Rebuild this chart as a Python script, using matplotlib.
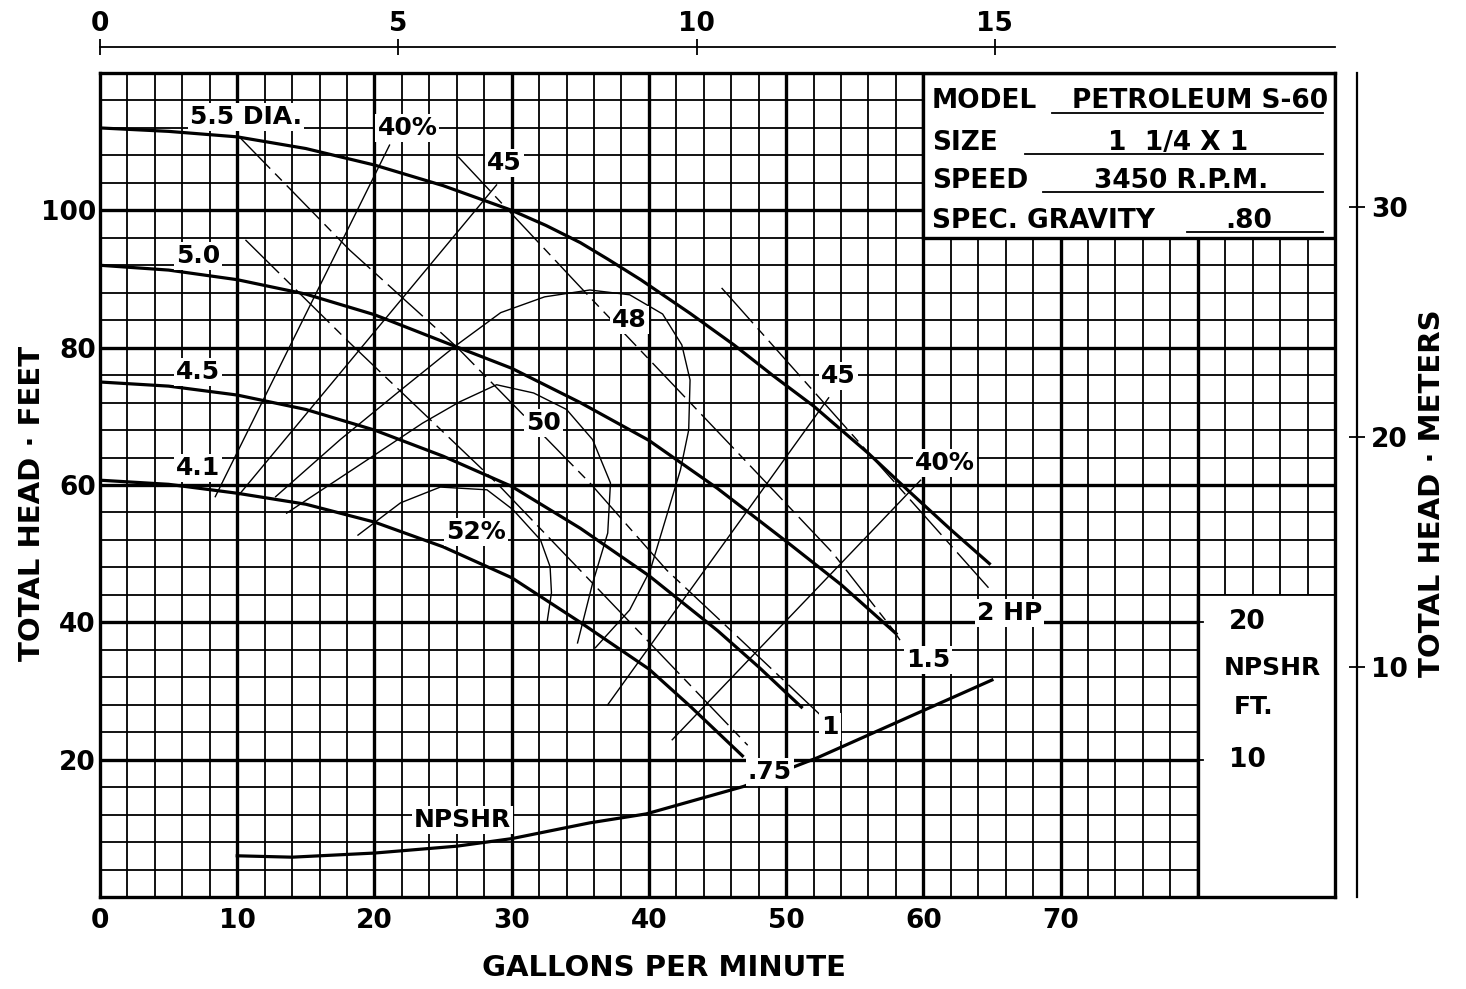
import numpy as np
import matplotlib.pyplot as plt
from matplotlib.patches import Rectangle
from matplotlib.lines import Line2D

plt.rcParams['font.family'] = ['DejaVu Sans']
plt.rcParams['font.weight'] = 'bold'
plt.rcParams['lines.scale_dashes'] = False

# %% head curves per impeller dia. (GPM, ft)
q_55 = [0, 5, 10, 15, 20, 25, 30, 32.5, 35, 37, 39.4, 43, 46.2, 49, 52, 56, 59, 62, 64.9]
h_55 = [112, 111.5, 110.7, 109, 106.6, 103.6, 100, 97.8, 95.3, 92.9, 89.9, 85.0, 80.4, 76.0, 71.5, 64.6, 59.0, 53.5, 48.4]
q_50 = [0, 5, 10, 15, 20, 26, 30, 35, 40, 45, 50, 54, 58.1]
h_50 = [92, 91.3, 89.9, 87.8, 84.8, 80.1, 77, 72, 66.5, 59.5, 51.8, 45.5, 38.2]
q_45 = [0, 5, 10, 15, 20, 25, 30, 35, 40, 45, 48, 51.2]
h_45 = [75, 74.4, 73.1, 71, 68, 64.2, 59.8, 53.7, 46.8, 38.8, 33.5, 27.5]
q_41 = [0, 5, 10, 15, 20, 25, 30, 35, 40, 43, 46.9]
h_41 = [60.7, 60.1, 58.8, 57.2, 54.6, 51, 46.5, 40, 33.2, 27.8, 20.4]

# %% efficiency lines
q_e40a = [8.4, 21.1]
h_e40a = [58.3, 109.5]
q_e45a = [10.1, 28.9]
h_e45a = [58.5, 103.7]
q_e48 = [12.8, 17.5, 21.9, 26.0, 29.2, 32.4, 35.7, 38.6, 41.0, 42.4, 43.0, 42.9, 42.3, 41.2, 40.1, 38.6, 36.1]
h_e48 = [58.3, 66.6, 73.8, 80.4, 85.1, 87.4, 88.4, 87.7, 84.9, 80.4, 75.3, 68.0, 62.2, 54.9, 47.6, 41.8, 36.3]
q_e50 = [13.6, 18.6, 23.5, 26.2, 28.9, 31.6, 34.0, 35.9, 37.2, 37.0, 35.9, 34.8]
h_e50 = [55.9, 62.5, 69.0, 72.1, 74.6, 73.4, 71.0, 66.6, 60.3, 53.0, 45.7, 37.0]
q_e52 = [18.8, 21.9, 24.8, 28.2, 30.1, 32.1, 32.8, 32.9, 32.6]
h_e52 = [52.7, 57.4, 59.7, 59.3, 56.4, 52.0, 48.1, 44.3, 40.3]
q_e45b = [37.0, 53.1]
h_e45b = [28.0, 72.7]
q_e40b = [41.7, 59.8]
h_e40b = [22.9, 60.7]

# %% horsepower lines
q_hp2 = [45.3, 64.9]
h_hp2 = [88.7, 44.7]
q_hp15 = [26.1, 35.2, 46.1, 53.4, 57.8, 58.3]
h_hp15 = [107.8, 88.4, 65.5, 50.1, 38.9, 37.4]
q_hp1 = [10.0, 18.2, 26.0, 35.7, 41.3, 45.4, 52.5]
h_hp1 = [111.0, 94.2, 80.1, 60.3, 47.6, 39.9, 26.5]
q_hp075 = [10.6, 18.2, 28.9, 47.2]
h_hp075 = [95.7, 80.7, 60.3, 22.1]

# %% NPSHR (ft, own scale = half of head scale)
q_npshr = [10, 14, 20, 26, 30, 35.7, 39.8, 46.9, 52.3, 59.6, 65]
npshr = [3.0, 2.9, 3.2, 3.7, 4.25, 5.4, 6.05, 8.05, 10.15, 13.4, 15.8]

gpm_ticks = [0, 10, 20, 30, 40, 50, 60, 70]
ft_ticks = [20, 40, 60, 80, 100]
m3h_ticks = [0, 5, 10, 15]
m_ticks = [10, 20, 30]

# %%
W, H = 1466, 989
fig = plt.figure(figsize=(W / 100, H / 100), dpi=100)


def box(x0, y0, x1, y1):
    return [x0 / W, 1 - y1 / H, (x1 - x0) / W, (y1 - y0) / H]


def ftext(x, y, s, **kw):
    fig.text(x / W, 1 - y / H, s, **kw)


def fline(x0, x1, y, lw=1.3):
    fig.add_artist(Line2D([x0 / W, x1 / W], [1 - y / H, 1 - y / H], color='black', lw=lw,
                          transform=fig.transFigure, zorder=5))


ax = fig.add_axes(box(100, 73, 1335, 897))
ax.set_xlim(0, 90)
ax.set_ylim(0, 120)

# grid
for x in range(2, 90, 2):
    ax.axvline(x, color='black', lw=2.4 if x % 10 == 0 else 1.3, zorder=1)
for y in range(4, 120, 4):
    ax.axhline(y, color='black', lw=2.4 if y % 20 == 0 else 1.3, zorder=1)

# model box and npshr box
ax.add_patch(Rectangle((60, 96), 30, 24, facecolor='white', edgecolor='black', lw=2.4, zorder=2))
ax.add_patch(Rectangle((80, 0), 10, 44, facecolor='white', edgecolor='none', zorder=2))
ax.plot([80, 80], [0, 44], color='black', lw=2.4, zorder=2.1)
ax.plot([80, 90], [44, 44], color='black', lw=1.3, zorder=2.1)
for yy in [20, 40]:
    ax.plot([80, 80.4], [yy, yy], color='black', lw=1.3, zorder=2.1)

for sp in ax.spines.values():
    sp.set_linewidth(2.4)
    sp.set_zorder(6)

# head curves
for q, h in [(q_55, h_55), (q_50, h_50), (q_45, h_45), (q_41, h_41)]:
    ax.plot(q, h, color='black', lw=2.3, zorder=3, solid_capstyle='butt', solid_joinstyle='round')

# efficiency
for q, h in [(q_e40a, h_e40a), (q_e45a, h_e45a), (q_e48, h_e48), (q_e50, h_e50),
             (q_e52, h_e52), (q_e45b, h_e45b), (q_e40b, h_e40b)]:
    ax.plot(q, h, color='black', lw=1.0, zorder=3, solid_joinstyle='round')

# hp
for q, h in [(q_hp2, h_hp2), (q_hp15, h_hp15), (q_hp1, h_hp1), (q_hp075, h_hp075)]:
    ax.plot(q, h, color='black', lw=1.0, dashes=(34, 5, 7, 5), zorder=3)

ax.plot(q_npshr, 2 * np.array(npshr), color='black', lw=2.3, zorder=3, solid_joinstyle='round')

lab = dict(fontsize=18, fontweight='bold', ha='center', va='center', zorder=4,
           bbox=dict(facecolor='white', edgecolor='none', pad=1.5))
for x, y, s in [(10.64, 113.6, '5.5 DIA.'), (7.14, 93.4, '5.0'), (7.14, 76.5, '4.5'),
                (7.14, 62.5, '4.1'), (22.4, 112.0, '40%'), (29.5, 106.9, '45'),
                (38.6, 84.0, '48'), (32.3, 69.0, '50'), (27.4, 53.2, '52%'),
                (53.8, 75.9, '45'), (61.6, 63.2, '40%'), (66.3, 41.4, '2 HP'),
                (60.35, 34.5, '1.5'), (53.2, 24.8, '1'), (48.8, 18.2, '.75'),
                (26.4, 11.2, 'NPSHR')]:
    ax.text(x, y, s, **lab)

ax.text(82.3, 40, '20', fontsize=19, ha='left', va='center', zorder=4)
ax.text(82.3, 20, '10', fontsize=19, ha='left', va='center', zorder=4)
ax.text(85.4, 33.3, 'NPSHR', fontsize=18, ha='center', va='center', zorder=4)
ax.text(84.1, 27.7, 'FT.', fontsize=18, ha='center', va='center', zorder=4)

ax.set_xticks(gpm_ticks)
ax.set_yticks(ft_ticks)
ax.tick_params(length=0, labelsize=19)
ax.tick_params(axis='x', pad=8)
ax.tick_params(axis='y', pad=3)

# top m3/h scale
axt = fig.add_axes(box(100, 47, 1335, 60))
axt.set_xlim(0, 1235 / 298.3 * 5)
axt.set_ylim(0, 1)
for k in ['left', 'right', 'bottom']:
    axt.spines[k].set_visible(False)
axt.spines['top'].set_linewidth(1.3)
axt.patch.set_alpha(0)
axt.set_yticks([])
axt.xaxis.tick_top()
axt.set_xticks(m3h_ticks)
axt.tick_params(axis='x', direction='inout', length=12, width=1.3, labelsize=19, pad=1)

# right meters scale
axr = fig.add_axes(box(1345, 73, 1357, 897))
axr.set_ylim(0, 824 / 23)
for k in ['left', 'top', 'bottom']:
    axr.spines[k].set_visible(False)
axr.spines['right'].set_linewidth(1.6)
axr.patch.set_alpha(0)
axr.set_xticks([])
axr.yaxis.tick_right()
axr.set_yticks(m_ticks)
axr.tick_params(axis='y', direction='inout', length=12, width=1.3, labelsize=19, pad=4)

ftext(32, 503, 'TOTAL HEAD · FEET', fontsize=21, rotation=90, ha='center', va='center')
ftext(1432, 493, 'TOTAL HEAD · METERS', fontsize=21, rotation=90, ha='center', va='center')
ftext(664, 968, 'GALLONS PER MINUTE', fontsize=21, ha='center', va='center')

# model block
tk = dict(fontsize=19, fontweight='bold', va='baseline', zorder=6)
ftext(932, 108, 'MODEL', ha='left', **tk)
ftext(1200, 108, 'PETROLEUM S-60', ha='center', **tk)
fline(1052, 1323, 113)
ftext(932, 150, 'SIZE', ha='left', **tk)
ftext(1178, 150, '1  1/4 X 1', ha='center', **tk)
fline(1025, 1323, 154)
ftext(932, 188, 'SPEED', ha='left', **tk)
ftext(1181, 188, '3450 R.P.M.', ha='center', **tk)
fline(1043, 1323, 192)
ftext(932, 228, 'SPEC. GRAVITY', ha='left', **tk)
ftext(1249, 228, '.80', ha='center', **tk)
fline(1187, 1323, 232)

plt.savefig('out.png', dpi=100)
